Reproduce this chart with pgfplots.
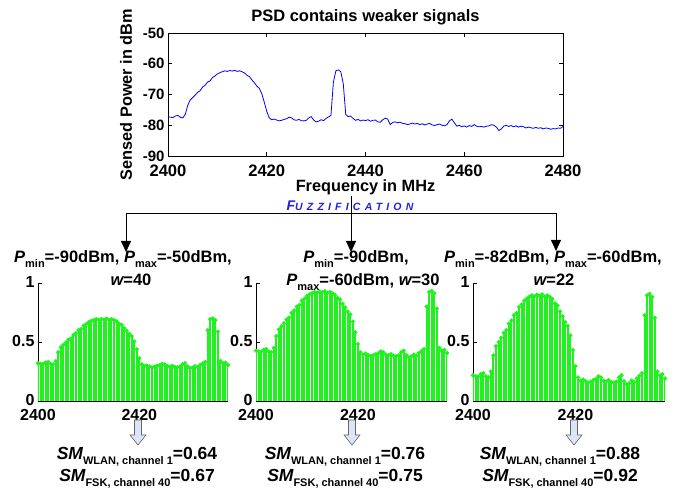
\documentclass[border=0pt]{standalone}
\usepackage{pgfplots}
\pgfplotsset{compat=1.18}
\usepackage{pgfplotstable}
\usepackage{fontspec}
\setmainfont{Liberation Sans}
\usetikzlibrary{arrows.meta}

\definecolor{psdblue}{rgb}{0,0,1}
\definecolor{stemgreen}{rgb}{0.12,0.95,0.12}
\definecolor{fuzzblue}{rgb}{0.12,0.12,0.92}
\definecolor{arrowfill}{rgb}{0.86,0.90,0.97}

\newcommand\sz[1]{\fontsize{#1}{#1}\selectfont}
\newcommand\sub[1]{\raisebox{-0.28em}{\sz{11}#1}}

% sensed PSD, dBm
\pgfplotstableread{
x p
2400.0 -77.2
2400.5 -77.4
2401.0 -77.5
2401.5 -77.0
2402.0 -76.8
2402.5 -77.4
2403.0 -77.6
2403.5 -76.5
2404.0 -73.5
2404.5 -71.8
2405.0 -71.0
2405.5 -70.2
2406.0 -69.3
2406.5 -68.8
2407.0 -67.6
2407.5 -67.0
2408.0 -66.0
2408.5 -65.6
2409.0 -64.5
2409.5 -64.0
2410.0 -63.3
2410.5 -62.9
2411.0 -62.6
2411.5 -62.3
2412.0 -62.5
2412.5 -62.2
2413.0 -62.4
2413.5 -62.1
2414.0 -62.5
2414.5 -62.3
2415.0 -62.6
2415.5 -63.0
2416.0 -63.8
2416.5 -64.2
2417.0 -65.3
2417.5 -66.2
2418.0 -67.3
2418.5 -68.0
2419.0 -69.8
2419.5 -72.5
2420.0 -75.5
2420.5 -77.6
2421.0 -78.2
2421.5 -78.0
2422.0 -78.3
2422.5 -78.6
2423.0 -78.4
2423.5 -78.1
2424.0 -77.9
2424.5 -77.4
2425.0 -77.6
2425.5 -78.2
2426.0 -78.4
2426.5 -78.1
2427.0 -78.5
2427.5 -78.6
2428.0 -78.4
2428.5 -77.6
2429.0 -77.2
2429.5 -78.3
2430.0 -78.9
2430.5 -78.7
2431.0 -78.2
2431.5 -78.5
2432.0 -77.8
2432.5 -77.3
2433.0 -76.8
2433.5 -66.0
2434.0 -62.3
2434.5 -62.0
2435.0 -62.6
2435.5 -66.5
2436.0 -76.5
2436.5 -77.2
2437.0 -77.0
2437.5 -77.8
2438.0 -78.4
2438.5 -78.1
2439.0 -78.6
2439.5 -78.3
2440.0 -78.5
2440.5 -78.2
2441.0 -78.7
2441.5 -78.4
2442.0 -78.3
2442.5 -78.9
2443.0 -79.0
2443.5 -78.2
2444.0 -77.7
2444.5 -78.0
2445.0 -79.8
2445.5 -79.1
2446.0 -78.9
2446.5 -79.2
2447.0 -79.0
2447.5 -79.4
2448.0 -79.5
2448.5 -79.8
2449.0 -79.6
2449.5 -79.3
2450.0 -79.6
2450.5 -79.4
2451.0 -79.8
2451.5 -79.5
2452.0 -79.9
2452.5 -79.6
2453.0 -79.4
2453.5 -79.9
2454.0 -80.1
2454.5 -79.8
2455.0 -79.6
2455.5 -80.0
2456.0 -80.2
2456.5 -79.8
2457.0 -78.6
2457.5 -78.0
2458.0 -79.2
2458.5 -80.3
2459.0 -80.0
2459.5 -80.5
2460.0 -80.2
2460.5 -80.6
2461.0 -80.1
2461.5 -80.4
2462.0 -79.8
2462.5 -80.3
2463.0 -80.5
2463.5 -80.4
2464.0 -80.6
2464.5 -80.3
2465.0 -80.2
2465.5 -79.8
2466.0 -80.0
2466.5 -80.6
2467.0 -81.7
2467.5 -81.2
2468.0 -80.3
2468.5 -80.0
2469.0 -80.4
2469.5 -80.1
2470.0 -80.5
2470.5 -80.2
2471.0 -80.6
2471.5 -80.3
2472.0 -80.5
2472.5 -80.9
2473.0 -80.6
2473.5 -80.8
2474.0 -81.0
2474.5 -80.7
2475.0 -81.0
2475.5 -80.8
2476.0 -81.2
2476.5 -80.9
2477.0 -81.0
2477.5 -81.3
2478.0 -81.1
2478.5 -81.2
2479.0 -80.9
2479.5 -81.0
2480.0 -80.4
}\psd

% fuzzified values: a (Pmin -90, Pmax -50), b (Pmin -90, Pmax -60), c (Pmin -82, Pmax -60)
\pgfplotstableread{
x a b c
2400.0 0.320 0.427 0.218
2400.5 0.315 0.420 0.209
2401.0 0.313 0.417 0.205
2401.5 0.325 0.433 0.227
2402.0 0.330 0.440 0.236
2402.5 0.315 0.420 0.209
2403.0 0.310 0.413 0.200
2403.5 0.338 0.450 0.250
2404.0 0.413 0.550 0.386
2404.5 0.455 0.607 0.464
2405.0 0.475 0.633 0.500
2405.5 0.495 0.660 0.536
2406.0 0.518 0.690 0.577
2406.5 0.530 0.707 0.600
2407.0 0.560 0.747 0.655
2407.5 0.575 0.767 0.682
2408.0 0.600 0.800 0.727
2408.5 0.610 0.813 0.745
2409.0 0.638 0.850 0.795
2409.5 0.650 0.867 0.818
2410.0 0.668 0.890 0.850
2410.5 0.678 0.903 0.868
2411.0 0.685 0.913 0.882
2411.5 0.693 0.923 0.895
2412.0 0.688 0.917 0.886
2412.5 0.695 0.927 0.900
2413.0 0.690 0.920 0.891
2413.5 0.698 0.930 0.905
2414.0 0.688 0.917 0.886
2414.5 0.693 0.923 0.895
2415.0 0.685 0.913 0.882
2415.5 0.675 0.900 0.864
2416.0 0.655 0.873 0.827
2416.5 0.645 0.860 0.809
2417.0 0.618 0.823 0.759
2417.5 0.595 0.793 0.718
2418.0 0.568 0.757 0.668
2418.5 0.550 0.733 0.636
2419.0 0.505 0.673 0.555
2419.5 0.438 0.583 0.432
2420.0 0.363 0.483 0.295
2420.5 0.310 0.413 0.200
2421.0 0.295 0.393 0.173
2421.5 0.300 0.400 0.182
2422.0 0.293 0.390 0.168
2422.5 0.285 0.380 0.155
2423.0 0.290 0.387 0.164
2423.5 0.298 0.397 0.177
2424.0 0.303 0.403 0.186
2424.5 0.315 0.420 0.209
2425.0 0.310 0.413 0.200
2425.5 0.295 0.393 0.173
2426.0 0.290 0.387 0.164
2426.5 0.298 0.397 0.177
2427.0 0.288 0.383 0.159
2427.5 0.285 0.380 0.155
2428.0 0.290 0.387 0.164
2428.5 0.310 0.413 0.200
2429.0 0.320 0.427 0.218
2429.5 0.293 0.390 0.168
2430.0 0.278 0.370 0.141
2430.5 0.283 0.377 0.150
2431.0 0.295 0.393 0.173
2431.5 0.288 0.383 0.159
2432.0 0.305 0.407 0.191
2432.5 0.318 0.423 0.214
2433.0 0.330 0.440 0.236
2433.5 0.600 0.800 0.727
2434.0 0.693 0.923 0.895
2434.5 0.700 0.933 0.909
2435.0 0.685 0.913 0.882
2435.5 0.588 0.783 0.705
2436.0 0.338 0.450 0.250
2436.5 0.320 0.427 0.218
2437.0 0.325 0.433 0.227
2437.5 0.305 0.407 0.191
}\fuzz

\pgfplotsset{
  fz/.style={
    scale only axis, height=118pt, anchor=south west,
    xmin=2400, xmax=2437.5, ymin=0, ymax=1,
    xtick={2400,2420}, ytick={0,0.5,1},
    axis x line*=bottom, axis y line*=left,
    axis line style={-, line width=0.8pt},
    every tick/.style={black, line width=0.6pt},
    ticklabel style={font=\sz{16}\bfseries},
    xticklabel style={yshift=-5pt},
    yticklabel style={yshift=1pt},
    /pgf/number format/assume math mode=true,
    /pgf/number format/1000 sep={},
    clip=true,
  },
}

\begin{document}
\begin{tikzpicture}[x=1pt,y=1pt]
\useasboundingbox (0,0) rectangle (683,489);

\begin{axis}[
  scale only axis, width=395pt, height=123pt,
  at={(168pt,333pt)}, anchor=south west,
  xmin=2400, xmax=2480, ymin=-90, ymax=-50,
  xtick={2400,2420,...,2480}, ytick={-90,-80,...,-50},
  title={PSD contains weaker signals},
  xlabel={Frequency in MHz},
  ylabel={Sensed Power in dBm},
  title style={font=\sz{16.5}\bfseries, yshift=-2pt},
  label style={font=\sz{16.3}\bfseries},
  xlabel style={yshift=3pt},
  ylabel style={yshift=4pt},
  xticklabel style={font=\sz{16.6}\bfseries, yshift=-5pt},
  yticklabel style={font=\sz{15}\bfseries},
  /pgf/number format/assume math mode=true,
  /pgf/number format/1000 sep={},
  axis line style={line width=0.8pt},
  every tick/.style={black, line width=0.6pt},
]
\addplot[psdblue, line width=0.8pt, mark=none] table[x=x, y=p] {\psd};
\end{axis}

% fuzzification arrows
\draw[line width=0.8pt] (351,293) -- (351,249);
\draw[line width=0.8pt] (126,276) -- (556,276);
\draw[line width=0.8pt, -{Triangle[length=11pt,width=10pt]}] (351,260) -- (351,237);
\draw[line width=0.8pt, -{Triangle[length=11pt,width=10pt]}] (126,276) -- (126,237);
\draw[line width=0.8pt, -{Triangle[length=11pt,width=10pt]}] (556,276) -- (556,238);
\node[inner sep=0pt, text=fuzzblue, font=\bfseries\itshape\addfontfeature{LetterSpace=40}] at (350,283)
  {\sz{14}F\sz{10.5}UZZIFICATION};

% parameter titles
\begin{scope}[every node/.style={anchor=base, inner sep=0pt, font=\sz{16.5}\bfseries}]
\node at (123,226) {{\itshape P}\sub{min}=-90dBm, {\itshape P}\sub{max}=-50dBm,};
\node at (131,203) {{\itshape w}=40};
\node at (356,226) {{\itshape P}\sub{min}=-90dBm,};
\node at (363,203) {{\itshape P}\sub{max}=-60dBm, {\itshape w}=30};
\node at (553,226) {{\itshape P}\sub{min}=-82dBm, {\itshape P}\sub{max}=-60dBm,};
\node at (554,203) {{\itshape w}=22};
\end{scope}

\begin{axis}[fz, width=190pt, at={(38pt,88pt)}]
\addplot[ycomb, stemgreen, line width=2pt, mark=*, mark size=0.9pt] table[x=x, y=a] {\fuzz};
\end{axis}
\begin{axis}[fz, width=191pt, at={(256pt,88pt)}]
\addplot[ycomb, stemgreen, line width=2pt, mark=*, mark size=0.9pt] table[x=x, y=b] {\fuzz};
\end{axis}
\begin{axis}[fz, width=192pt, at={(473pt,88pt)}]
\addplot[ycomb, stemgreen, line width=2pt, mark=*, mark size=0.9pt] table[x=x, y=c] {\fuzz};
\end{axis}

% hollow arrows
\foreach \cx in {138,352,574} {
  \filldraw[fill=arrowfill, draw=gray!80!black, line width=0.6pt]
    (\cx-3.5,69) -- (\cx+3.5,69) -- (\cx+3.5,54) -- (\cx+8,54) -- (\cx,44)
    -- (\cx-8,54) -- (\cx-3.5,54) -- cycle;
}

% similarity measures
\begin{scope}[every node/.style={anchor=base, inner sep=0pt, font=\sz{17.5}\bfseries}]
\node at (137,29) {{\itshape SM}\sub{WLAN, channel 1}=0.64};
\node at (137,7) {{\itshape SM}\sub{FSK, channel 40}=0.67};
\node at (345,29) {{\itshape SM}\sub{WLAN, channel 1}=0.76};
\node at (345,7) {{\itshape SM}\sub{FSK, channel 40}=0.75};
\node at (560,29) {{\itshape SM}\sub{WLAN, channel 1}=0.88};
\node at (560,7) {{\itshape SM}\sub{FSK, channel 40}=0.92};
\end{scope}
\end{tikzpicture}
\end{document}
